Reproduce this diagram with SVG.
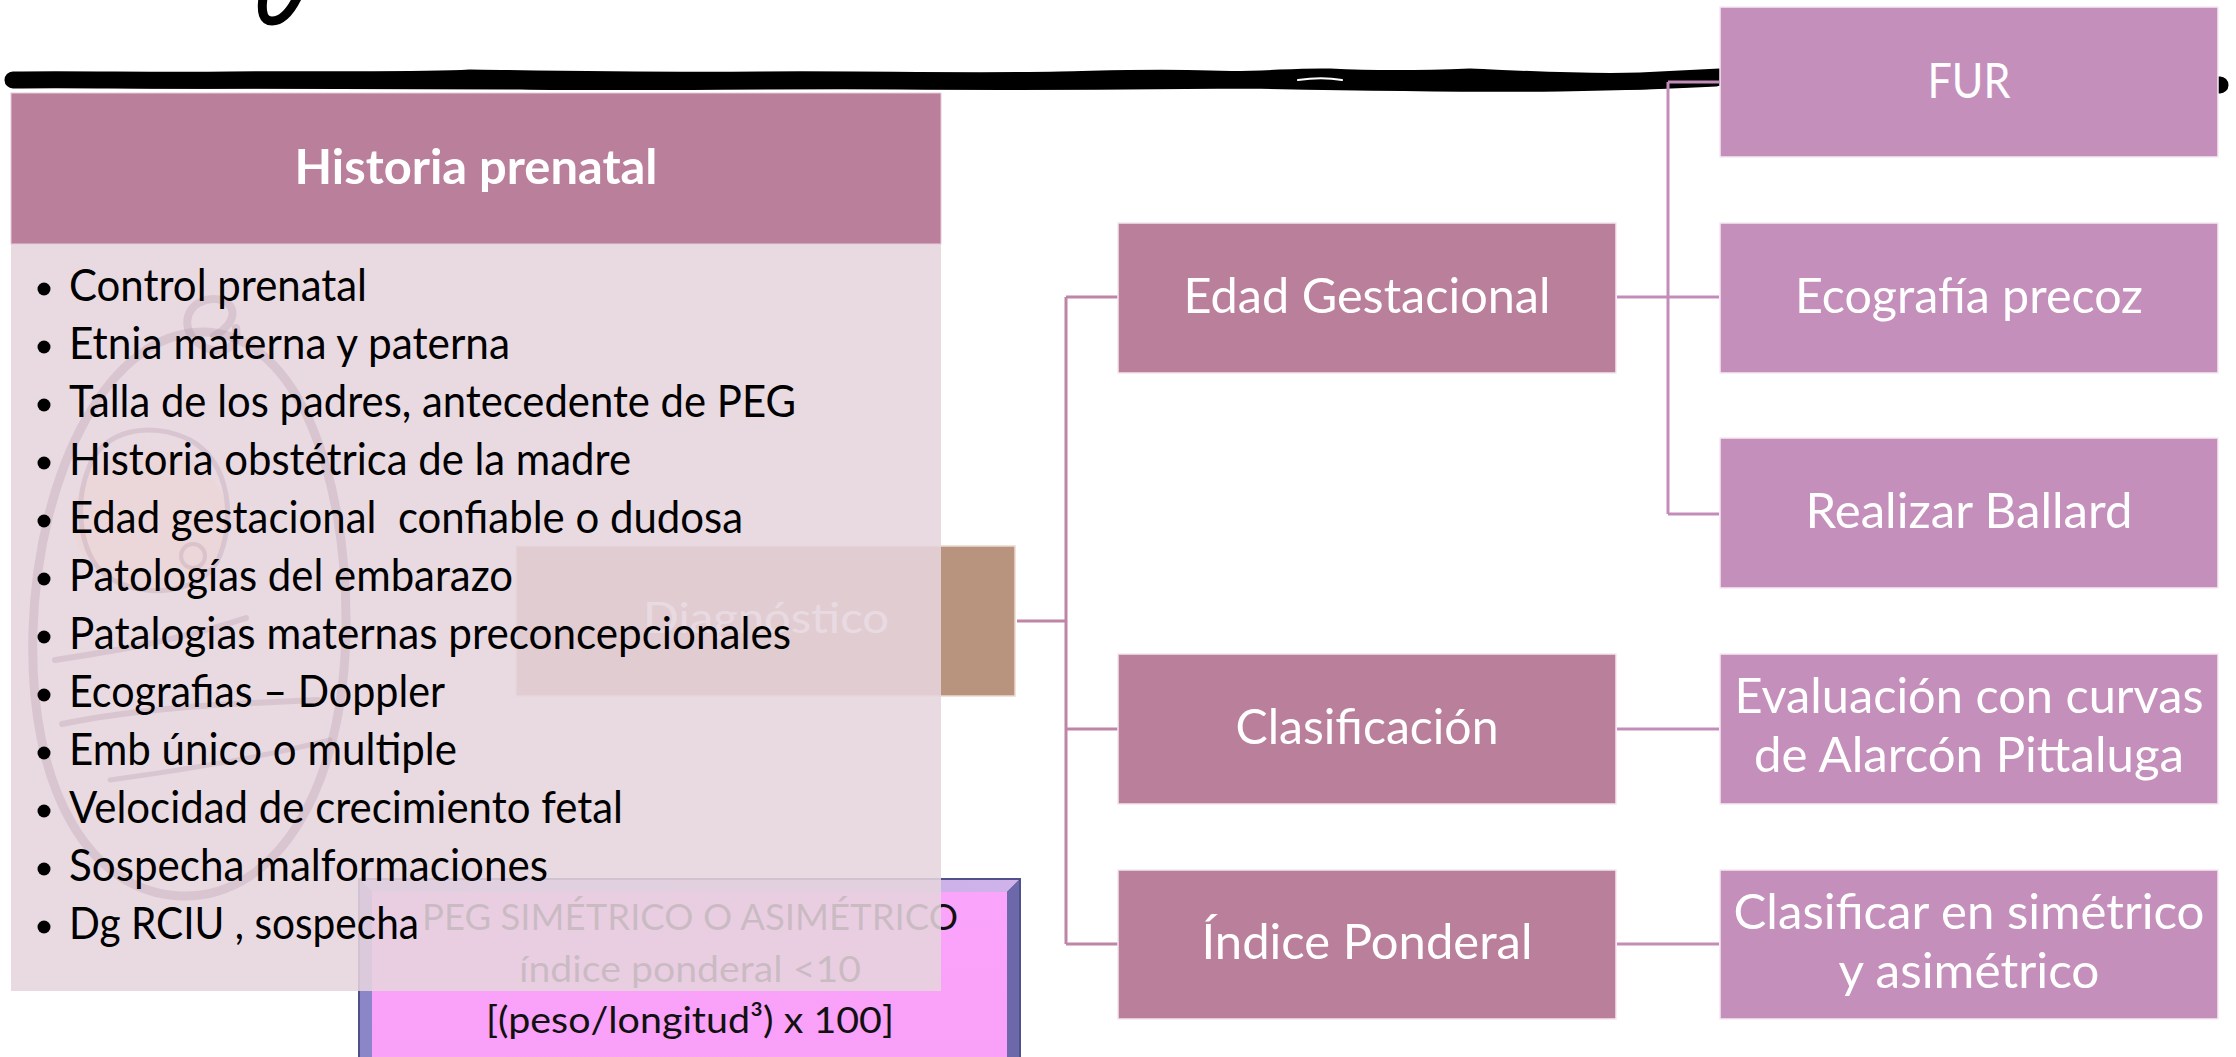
<svg xmlns="http://www.w3.org/2000/svg" width="2236" height="1057" viewBox="0 0 2236 1057">
  <style>
    .lbl { font-family: Lato, "Liberation Sans", sans-serif; fill: #ffffff; text-anchor: middle; }
    .box-main { fill: #ba7f9b; stroke: #f4e6ee; stroke-width: 1.5; }
    .box-sub { fill: #c48fbb; stroke: #f6eaf3; stroke-width: 1.5; }
    .big { font-size: 49px; }
    .li { font-family: Lato, "Liberation Sans", sans-serif; font-size: 44px; fill: #000000; }
    .peg { font-family: Lato, "Liberation Sans", sans-serif; font-size: 37px; fill: #111111; text-anchor: middle; }
    .conn-l { fill: none; stroke: #bf85a6; stroke-width: 3; }
    .conn-r { fill: none; stroke: #c38dba; stroke-width: 3; }
    .wm { fill: none; stroke: #a98da0; stroke-opacity: 0.26; stroke-linecap: round; }
  </style>
  <defs>
    <linearGradient id="bevelTop" x1="0" y1="0" x2="1" y2="0">
      <stop offset="0" stop-color="#b9b2e2"/>
      <stop offset="1" stop-color="#cfb2ea"/>
    </linearGradient>
    <linearGradient id="pegFill" x1="0" y1="0" x2="0" y2="1">
      <stop offset="0" stop-color="#fba4fb"/>
      <stop offset="1" stop-color="#f9a0f9"/>
    </linearGradient>
  </defs>

  <rect width="2236" height="1057" fill="#ffffff"/>

  <!-- hand-drawn brush rule across the top -->
  <g id="brush-rule">
    <path d="M13,80 C80,79 150,81 230,80 C330,79 420,81 470,78 C540,79 640,81 760,80 C860,79 960,82 1060,80 C1110,79 1150,77 1210,79 C1260,81 1290,76 1330,77 C1370,79 1420,79 1470,77 C1520,79 1580,83 1640,81 C1680,79 1700,78 1720,77 L2220,85"
          fill="none" stroke="#000" stroke-width="17" stroke-linecap="round" stroke-linejoin="round"/>
    <path d="M40,84 C200,86 380,85 520,86 C640,88 760,85 900,86 C1020,87 1150,86 1250,85 C1350,87 1450,89 1560,88 C1620,87 1680,85 1716,83"
          fill="none" stroke="#000" stroke-width="7" stroke-linecap="round"/>
    <path d="M1298,80 C1312,78 1330,78 1342,80" fill="none" stroke="#fff" stroke-width="2" stroke-linecap="round"/>
    <!-- end of a brush letter at the top edge -->
    <path d="M263,-2 C261,12 263,21 272,21 C283,21 291,10 297,-2" fill="none" stroke="#000" stroke-width="9" stroke-linecap="round"/>
    <path d="M272,2 C271,10 273,14 277,12" fill="none" stroke="#fff" stroke-width="2" stroke-linecap="round"/>
  </g>

  <!-- Diagnóstico -->
  <g id="node-diagnostico">
    <rect x="516" y="546" width="499" height="150" fill="#b8937e" stroke="#ecd9d0" stroke-width="1.5"/>
    <text class="lbl" x="766" y="633" font-size="42" textLength="246" lengthAdjust="spacingAndGlyphs">Diagnóstico</text>
  </g>

  <!-- PEG simétrico o asimétrico -->
  <g id="node-peg">
    <rect x="358" y="878" width="663" height="185" fill="#50508a"/>
    <polygon points="360,880 1019,880 1007,892 372,892" fill="url(#bevelTop)"/>
    <polygon points="360,880 372,892 372,1063 360,1063" fill="#8a86c8"/>
    <polygon points="1019,880 1007,892 1007,1063 1019,1063" fill="#6c68aa"/>
    <rect x="372" y="892" width="635" height="171" fill="url(#pegFill)"/>
    <text class="peg" x="690" y="930" textLength="536" lengthAdjust="spacingAndGlyphs">PEG SIMÉTRICO O ASIMÉTRICO</text>
    <text class="peg" x="690" y="982" textLength="342" lengthAdjust="spacingAndGlyphs">índice ponderal &lt;10</text>
    <text class="peg" x="690" y="1033" textLength="408" lengthAdjust="spacingAndGlyphs">[(peso/longitud³) x 100]</text>
  </g>

  <!-- Historia prenatal -->
  <g id="node-historia">
    <rect x="11" y="244" width="930" height="747" fill="#e6d5de" fill-opacity="0.87"/>
    <!-- faint swaddled-baby watermark -->
    <g id="watermark">
      <ellipse cx="150" cy="520" rx="78" ry="70" fill="#f3cfc0" fill-opacity="0.22" stroke="none"/>
      <path class="wm" stroke-width="9" d="M205,332 C110,330 38,470 33,630 C28,790 90,892 180,896 C275,900 345,790 346,625 C347,480 300,336 205,332 Z"/>
      <path class="wm" stroke-width="8" d="M214,336 C246,318 232,294 206,300 C182,306 180,336 206,348 C226,356 240,344 236,328"/>
      <path class="wm" stroke-width="5" d="M88,470 C100,430 150,420 190,440 C230,462 236,520 218,560 C198,598 130,600 100,570 C78,545 76,500 88,470"/>
      <circle class="wm" stroke-width="4" cx="193" cy="556" r="12"/>
      <path class="wm" stroke-width="6" d="M55,660 C120,650 180,640 246,618"/>
      <path class="wm" stroke-width="6" d="M62,724 C140,708 220,704 318,700"/>
      <path class="wm" stroke-width="5" d="M110,780 C180,770 250,760 330,740"/>
    </g>
    <rect x="11" y="93" width="930" height="151" fill="#ba7f9b" stroke="#e6cbd8" stroke-width="1"/>
    <text class="lbl" x="476" y="184" font-size="48" font-weight="bold" textLength="363" lengthAdjust="spacingAndGlyphs">Historia prenatal</text>
    <g id="lista">
      <g fill="#000">
        <circle cx="44" cy="289" r="6.5"/>
        <circle cx="44" cy="347" r="6.5"/>
        <circle cx="44" cy="405" r="6.5"/>
        <circle cx="44" cy="463" r="6.5"/>
        <circle cx="44" cy="521" r="6.5"/>
        <circle cx="44" cy="579" r="6.5"/>
        <circle cx="44" cy="637" r="6.5"/>
        <circle cx="44" cy="695" r="6.5"/>
        <circle cx="44" cy="753" r="6.5"/>
        <circle cx="44" cy="811" r="6.5"/>
        <circle cx="44" cy="869" r="6.5"/>
        <circle cx="44" cy="927" r="6.5"/>
      </g>
      <text class="li" x="69" y="301" textLength="298" lengthAdjust="spacingAndGlyphs">Control prenatal</text>
      <text class="li" x="69" y="359" textLength="441" lengthAdjust="spacingAndGlyphs">Etnia materna y paterna</text>
      <text class="li" x="69" y="417" textLength="727" lengthAdjust="spacingAndGlyphs">Talla de los padres, antecedente de PEG</text>
      <text class="li" x="69" y="475" textLength="562" lengthAdjust="spacingAndGlyphs">Historia obstétrica de la madre</text>
      <text class="li" x="69" y="533" textLength="674" lengthAdjust="spacingAndGlyphs" xml:space="preserve">Edad gestacional  confiable o dudosa</text>
      <text class="li" x="69" y="591" textLength="444" lengthAdjust="spacingAndGlyphs">Patologías del embarazo</text>
      <text class="li" x="69" y="649" textLength="722" lengthAdjust="spacingAndGlyphs">Patalogias maternas preconcepcionales</text>
      <text class="li" x="69" y="707" textLength="376" lengthAdjust="spacingAndGlyphs">Ecografias – Doppler</text>
      <text class="li" x="69" y="765" textLength="388" lengthAdjust="spacingAndGlyphs">Emb único o multiple</text>
      <text class="li" x="69" y="823" textLength="554" lengthAdjust="spacingAndGlyphs">Velocidad de crecimiento fetal</text>
      <text class="li" x="69" y="881" textLength="479" lengthAdjust="spacingAndGlyphs">Sospecha malformaciones</text>
      <text class="li" x="69" y="939" textLength="350" lengthAdjust="spacingAndGlyphs">Dg RCIU , sospecha</text>
    </g>
  </g>

  <!-- connectors -->
  <g id="connectors">
    <path class="conn-l" d="M1017,621 H1066"/>
    <path class="conn-l" d="M1066,297 V944"/>
    <path class="conn-l" d="M1066,297 H1118"/>
    <path class="conn-l" d="M1066,729 H1118"/>
    <path class="conn-l" d="M1066,944 H1118"/>
    <path class="conn-r" d="M1617,297 H1719"/>
    <path class="conn-r" d="M1668,82 V514"/>
    <path class="conn-r" d="M1668,82 H1719"/>
    <path class="conn-r" d="M1668,514 H1719"/>
    <path class="conn-r" d="M1617,729 H1719"/>
    <path class="conn-r" d="M1617,944 H1719"/>
  </g>

  <g id="node-edad">
    <rect class="box-main" x="1118" y="223" width="498" height="150"/>
    <text class="lbl big" x="1367" y="313" textLength="367" lengthAdjust="spacingAndGlyphs">Edad Gestacional</text>
  </g>
  <g id="node-clasificacion">
    <rect class="box-main" x="1118" y="654" width="498" height="150"/>
    <text class="lbl big" x="1367" y="744" textLength="263" lengthAdjust="spacingAndGlyphs">Clasificación</text>
  </g>
  <g id="node-indice">
    <rect class="box-main" x="1118" y="870" width="498" height="149"/>
    <text class="lbl big" x="1367" y="959" textLength="331" lengthAdjust="spacingAndGlyphs">Índice Ponderal</text>
  </g>

  <g id="node-fur">
    <rect class="box-sub" x="1720" y="7" width="498" height="150"/>
    <text class="lbl big" x="1969" y="98" textLength="83" lengthAdjust="spacingAndGlyphs">FUR</text>
  </g>
  <g id="node-ecografia">
    <rect class="box-sub" x="1720" y="223" width="498" height="150"/>
    <text class="lbl big" x="1969" y="313" textLength="348" lengthAdjust="spacingAndGlyphs">Ecografía precoz</text>
  </g>
  <g id="node-ballard">
    <rect class="box-sub" x="1720" y="438" width="498" height="150"/>
    <text class="lbl big" x="1969" y="528" textLength="327" lengthAdjust="spacingAndGlyphs">Realizar Ballard</text>
  </g>
  <g id="node-evaluacion">
    <rect class="box-sub" x="1720" y="654" width="498" height="150"/>
    <text class="lbl big" x="1969" y="713" textLength="469" lengthAdjust="spacingAndGlyphs">Evaluación con curvas</text>
    <text class="lbl big" x="1969" y="772" textLength="430" lengthAdjust="spacingAndGlyphs">de Alarcón Pittaluga</text>
  </g>
  <g id="node-clasificar">
    <rect class="box-sub" x="1720" y="870" width="498" height="149"/>
    <text class="lbl big" x="1969" y="929" textLength="471" lengthAdjust="spacingAndGlyphs">Clasificar en simétrico</text>
    <text class="lbl big" x="1969" y="988" textLength="261" lengthAdjust="spacingAndGlyphs">y asimétrico</text>
  </g>
</svg>
